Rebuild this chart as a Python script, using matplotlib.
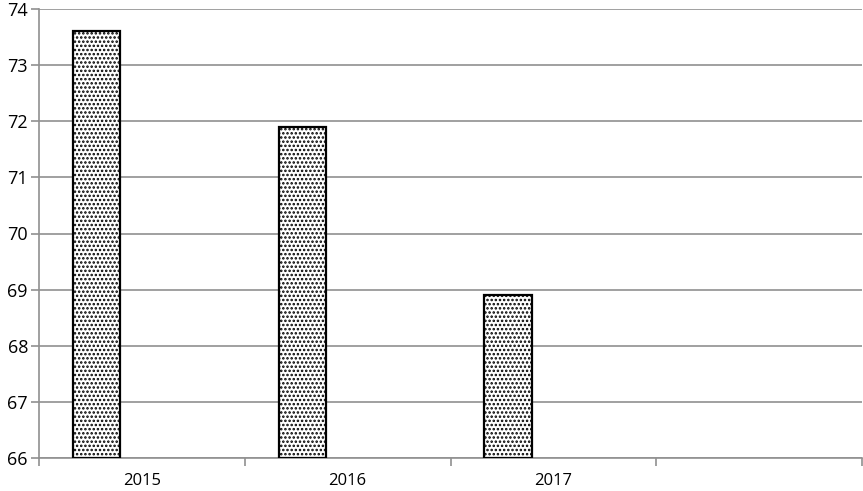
import matplotlib.pyplot as plt
import numpy as np

# Data
years = ['2015', '2016', '2017', '']
values = [73.6, 71.9, 68.9]

y_min, y_max = 66, 74

plt.rcParams['font.family'] = ['Open Sans', 'DejaVu Sans']
plt.rcParams['hatch.linewidth'] = 1.2

fig = plt.figure(figsize=(8.63, 4.91), dpi=100)
ax = fig.add_axes([39 / 863, 1 - 458 / 491, (862 - 39) / 863, (458 - 9) / 491])

x = np.arange(len(values))
ax.bar(x - 0.22, np.array(values) - y_min, bottom=y_min, width=0.23,
       color='white', edgecolor='black', linewidth=1.6, hatch='....', zorder=3)

ax.set_xlim(-0.5, len(years) - 0.5)
ax.set_ylim(y_min, y_max)

# y axis ticks and grid
ax.set_yticks(np.arange(y_min, y_max + 1, 1))
ax.yaxis.grid(True, color='#909090', linewidth=1.2, zorder=0)
ax.tick_params(axis='y', length=6, color='#909090', width=1.2, labelsize=13, pad=2)

# x axis: labels at category centres, tick marks at the category boundaries
ax.set_xticks(np.arange(len(years)))
ax.set_xticklabels(years)
ax.set_xticks(np.arange(len(years) + 1) - 0.5, minor=True)
ax.tick_params(axis='x', which='major', length=0, labelsize=12, pad=11)
ax.tick_params(axis='x', which='minor', length=6, color='#909090', width=1.2)

for side in ['top', 'right']:
    ax.spines[side].set_visible(False)
for side in ['left', 'bottom']:
    ax.spines[side].set_color('#909090')
    ax.spines[side].set_linewidth(1.2)

fig.savefig('out.png', dpi=100)
